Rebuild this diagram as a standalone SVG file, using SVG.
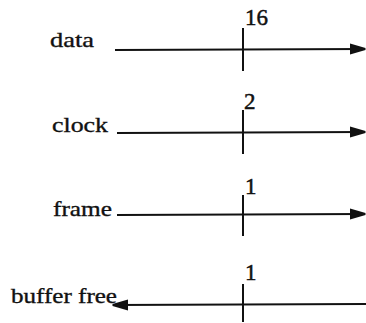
<svg xmlns="http://www.w3.org/2000/svg" width="366" height="323" viewBox="0 0 366 323">
  <style>
    .lbl { font-family: "Liberation Serif", "Times New Roman", serif; font-size: 21px; fill: #111; stroke: #111; stroke-width: 0.35px; }
    .num { font-family: "Liberation Serif", "Times New Roman", serif; font-size: 23px; fill: #111; stroke: #111; stroke-width: 0.5px; }
    .wire { stroke: #111; stroke-width: 2; fill: none; }
    .tick { stroke: #111; stroke-width: 2; fill: none; }
  </style>
  <defs>
    <marker id="head" viewBox="0 0 16 12" refX="15" refY="6" markerWidth="16" markerHeight="12" markerUnits="userSpaceOnUse" orient="auto">
      <path d="M0,0.5 L15.5,5 L15.5,7 L0,11.5 Z" fill="#111"/>
    </marker>
  </defs>

  <!-- signal labels -->
  <g id="data">
    <text class="lbl" x="50" y="47" textLength="44" lengthAdjust="spacingAndGlyphs">data</text>
  </g>
  <g id="clock">
    <text class="lbl" x="52" y="132" textLength="56" lengthAdjust="spacingAndGlyphs">clock</text>
  </g>
  <g id="frame">
    <text class="lbl" x="53" y="216" textLength="59" lengthAdjust="spacingAndGlyphs">frame</text>
  </g>
  <g id="buffer-free">
    <text class="lbl" x="11" y="303" textLength="106" lengthAdjust="spacingAndGlyphs">buffer free</text>
  </g>

  <!-- signal lines, interface cut and bit widths -->
  <g id="connectors">
    <line class="wire" x1="115" y1="50" x2="365" y2="49" marker-end="url(#head)"/>
    <line class="tick" x1="243" y1="28" x2="243" y2="71"/>
    <text class="num" x="245" y="25">16</text>

    <line class="wire" x1="117" y1="133" x2="365" y2="132" marker-end="url(#head)"/>
    <line class="tick" x1="243" y1="110" x2="243" y2="154"/>
    <text class="num" x="244" y="109">2</text>

    <line class="wire" x1="117" y1="215" x2="365" y2="214" marker-end="url(#head)"/>
    <line class="tick" x1="243" y1="195" x2="243" y2="236"/>
    <text class="num" x="245" y="194">1</text>

    <line class="wire" x1="366" y1="304" x2="113" y2="305" marker-end="url(#head)"/>
    <line class="tick" x1="243" y1="284" x2="243" y2="322"/>
    <text class="num" x="245" y="280">1</text>
  </g>
</svg>
